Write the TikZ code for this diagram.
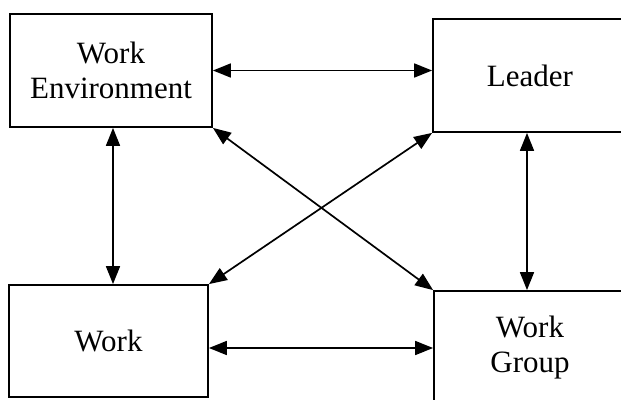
\documentclass[tikz,border=0pt]{standalone}
\usepackage{fontspec}
\setmainfont{Liberation Serif}
\usetikzlibrary{arrows.meta}
\begin{document}
\begin{tikzpicture}[x=1pt,y=-1pt,
  box/.style={draw, line width=1.8pt, inner sep=0pt, align=center,
    font=\fontsize{31}{35}\selectfont},
  link/.style={line width=1.7pt,
    {Triangle[length=18pt,width=14pt]}-{Triangle[length=18pt,width=14pt]}}]
\useasboundingbox (0,0) rectangle (621,399);
\clip (0,0) rectangle (621,399);
\node[box, minimum width=202pt, minimum height=113pt] (WE) at (111,70.5) {Work\\Environment};
\node[box, minimum width=194pt, minimum height=113pt] (L) at (530,75.5) {Leader};
\node[box, minimum width=199pt, minimum height=112pt] (W) at (108.5,341) {Work};
\node[box, minimum width=192pt, minimum height=114pt] (WG) at (530,348) {Work\\Group};
\draw[link] (WE.east) -- (L.west |- WE.east);
\draw[link] (W.east |- WG.west) -- (WG.west);
\draw[link] ([xshift=2pt]WE.south) -- ([xshift=2pt]WE.south |- W.north);
\draw[link] ([xshift=-3pt]L.south) -- ([xshift=-3pt]L.south |- WG.north);
\draw[link] (WE.south east) -- (WG.north west);
\draw[link] (L.south west) -- (W.north east);
\end{tikzpicture}
\end{document}
